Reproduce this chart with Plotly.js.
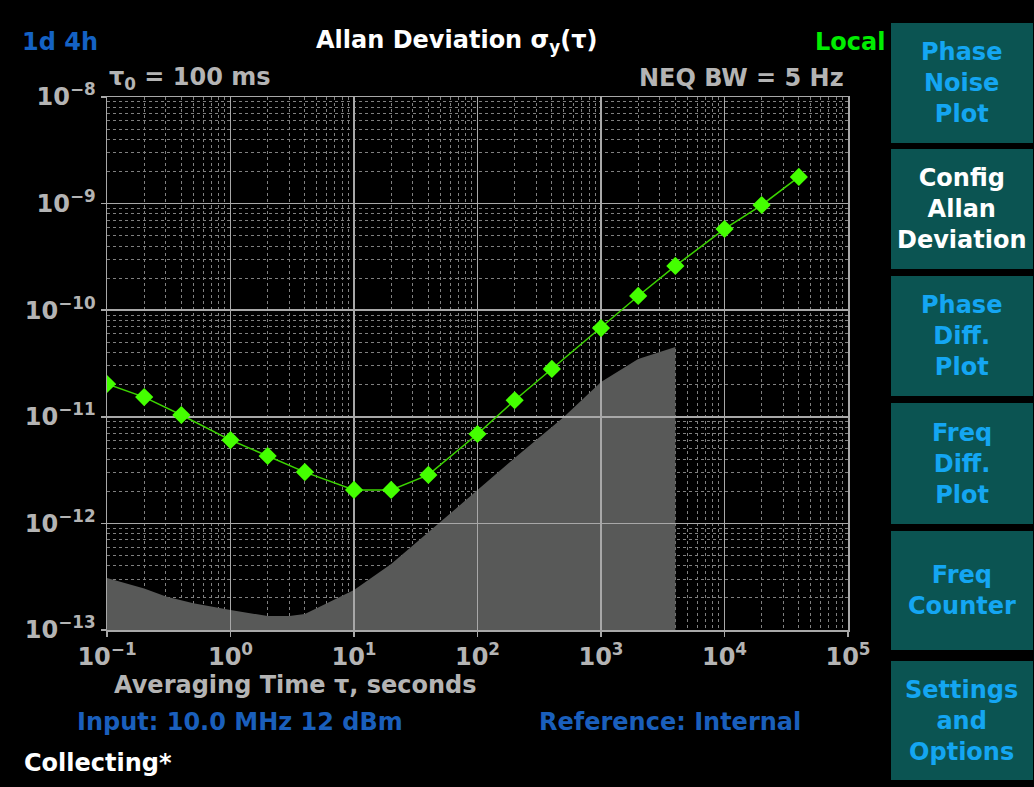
<!DOCTYPE html>
<html>
<head>
<meta charset="utf-8">
<script src="https://cdn.plot.ly/plotly-3.0.1.min.js"></script>
<style>
  html, body { margin: 0; padding: 0; background: #000; }
  #chart { width: 1034px; height: 787px; }
</style>
</head>
<body>
<div id="chart"></div>
<script>
// ---- data ----
const tau = [0.1, 0.2, 0.4, 1, 2, 4, 10, 20, 40, 100, 200, 400, 1000, 2000, 4000, 10000, 20000, 40000];
const adev = [2.03e-11, 1.53e-11, 1.04e-11, 6.05e-12, 4.29e-12, 3.03e-12, 2.06e-12, 2.06e-12, 2.85e-12,
              6.9e-12, 1.43e-11, 2.81e-11, 6.8e-11, 1.36e-10, 2.6e-10, 5.78e-10, 9.7e-10, 1.78e-9];
const floorTau = [0.1, 0.2, 0.3, 0.5, 1, 2, 3, 4, 10, 20, 50, 100, 200, 500, 1000, 2000, 4000];
const floorDev = [3.07e-13, 2.45e-13, 2.06e-13, 1.78e-13, 1.54e-13, 1.35e-13, 1.35e-13, 1.41e-13, 2.37e-13,
                  4.16e-13, 1.03e-12, 2.06e-12, 4.1e-12, 9.95e-12, 2.12e-11, 3.48e-11, 4.52e-11];
const xTickVals = [0.1, 1, 10, 100, 1000, 10000, 100000];
const xTickText = ['10<sup>−1</sup>', '10<sup>0</sup>', '10<sup>1</sup>', '10<sup>2</sup>', '10<sup>3</sup>', '10<sup>4</sup>', '10<sup>5</sup>'];
const yTickVals = [1e-13, 1e-12, 1e-11, 1e-10, 1e-9, 1e-8];
const yTickText = ['10<sup>−13</sup>', '10<sup>−12</sup>', '10<sup>−11</sup>', '10<sup>−10</sup>', '10<sup>−9</sup>', '10<sup>−8</sup>'];
const buttonLabels = ['Phase<br>Noise<br>Plot', 'Config<br>Allan<br>Deviation', 'Phase<br>Diff.<br>Plot',
                      'Freq<br>Diff.<br>Plot', 'Freq<br>Counter', 'Settings<br>and<br>Options'];

// ---- layout geometry (page pixels) ----
const W = 1034, H = 787;
const L = 107, R = 848, T = 97, B = 630;
const FONT = 'DejaVu Sans';
const px2x = p => (p - L) / (R - L);
const py2y = p => (B - p) / (B - T);

function ann(text, px, py, xanchor, color, size) {
  return {
    xref: 'paper', yref: 'paper', x: px2x(px), y: py2y(py),
    xanchor: xanchor, yanchor: 'middle', text: text, showarrow: false, align: 'center',
    font: { family: FONT, size: size || 24, color: color, weight: 'bold' }
  };
}

const btnTop = [23, 149, 276, 403, 531, 661];
const btnBot = [143, 269, 396, 524, 650, 780];
const shapes = [];
const annotations = [
  ann('1d 4h', 20, 42, 'left', '#1462c4'),
  ann('Allan Deviation σ<sub>y</sub>(τ)', 456, 42, 'center', '#ffffff'),
  ann('Local', 887, 42, 'right', '#00ee00'),
  ann('τ<sub>0</sub> = 100 ms', 107, 78, 'left', '#b4b4b4'),
  ann('NEQ BW = 5 Hz', 846, 78, 'right', '#b4b4b4'),
  ann('Averaging Time τ, seconds', 295, 685, 'center', '#b4b4b4'),
  ann('Input: 10.0 MHz 12 dBm', 75, 722, 'left', '#1a5fbc'),
  ann('Reference: Internal', 537, 722, 'left', '#1a5fbc'),
  ann('Collecting*', 22, 763, 'left', '#ffffff')
];
buttonLabels.forEach((lab, i) => {
  shapes.push({
    type: 'rect', xref: 'paper', yref: 'paper', layer: 'above',
    x0: px2x(891), x1: px2x(1033), y0: py2y(btnBot[i]), y1: py2y(btnTop[i]),
    fillcolor: '#0b5452', line: { width: 0 }
  });
  annotations.push(ann(lab, 962, (btnTop[i] + btnBot[i]) / 2, 'center', i === 1 ? '#ffffff' : '#14a6f2', 24));
});

const traces = [
  {
    x: floorTau, y: floorDev, xaxis: 'x', yaxis: 'y',
    type: 'scatter', mode: 'lines', fill: 'tozeroy',
    fillcolor: '#585958', line: { width: 0, color: '#585958' }, hoverinfo: 'skip'
  },
  {
    x: tau, y: adev, xaxis: 'x2', yaxis: 'y2',
    type: 'scatter', mode: 'lines+markers',
    line: { color: '#3cd400', width: 1.5 },
    marker: { symbol: 'diamond', size: 14, color: '#44ff00', line: { width: 0 } }
  }
];

const tickFont = { family: FONT, size: 24, color: '#b4b4b4', weight: 'bold' };
const minorGrid = { showgrid: true, gridcolor: '#808080', gridwidth: 1, griddash: 'dot', ticks: '', dtick: 'D1' };

const layout = {
  width: W, height: H,
  margin: { l: L, r: W - R, t: T, b: H - B, pad: 0 },
  paper_bgcolor: '#000000', plot_bgcolor: 'rgba(0,0,0,0)',
  showlegend: false,
  xaxis: {
    type: 'log', range: [-1, 5], domain: [0, 1], anchor: 'y',
    tickmode: 'array', tickvals: xTickVals, ticktext: xTickText, tickfont: tickFont,
    ticks: 'outside', ticklen: 5, tickwidth: 1.5, tickcolor: '#a8a8a8',
    showgrid: true, gridcolor: '#a8a8a8', gridwidth: 1.5,
    minor: minorGrid,
    showline: true, mirror: true, linecolor: '#a8a8a8', linewidth: 1.5, zeroline: false
  },
  yaxis: {
    type: 'log', range: [-13, -8], domain: [0, 1], anchor: 'x',
    tickmode: 'array', tickvals: yTickVals, ticktext: yTickText, tickfont: tickFont,
    ticks: 'outside', ticklen: 5, tickwidth: 1.5, tickcolor: '#a8a8a8',
    showgrid: true, gridcolor: '#a8a8a8', gridwidth: 1.5,
    minor: minorGrid,
    showline: true, mirror: true, linecolor: '#a8a8a8', linewidth: 1.5, zeroline: false
  },
  xaxis2: {
    type: 'log', range: [-1, 5], domain: [0, 1], anchor: 'y2',
    tickmode: 'array', tickvals: xTickVals, showticklabels: false, ticks: '',
    showgrid: true, gridcolor: '#a8a8a8', gridwidth: 1.5, showline: false, zeroline: false
  },
  yaxis2: {
    type: 'log', range: [-13, -8], domain: [0, 1], anchor: 'x2',
    tickmode: 'array', tickvals: yTickVals, showticklabels: false, ticks: '',
    showgrid: true, gridcolor: '#a8a8a8', gridwidth: 1.5, showline: false, zeroline: false
  },
  shapes: shapes,
  annotations: annotations
};

Plotly.newPlot('chart', traces, layout, { displayModeBar: false, staticPlot: true });
</script>
</body>
</html>
